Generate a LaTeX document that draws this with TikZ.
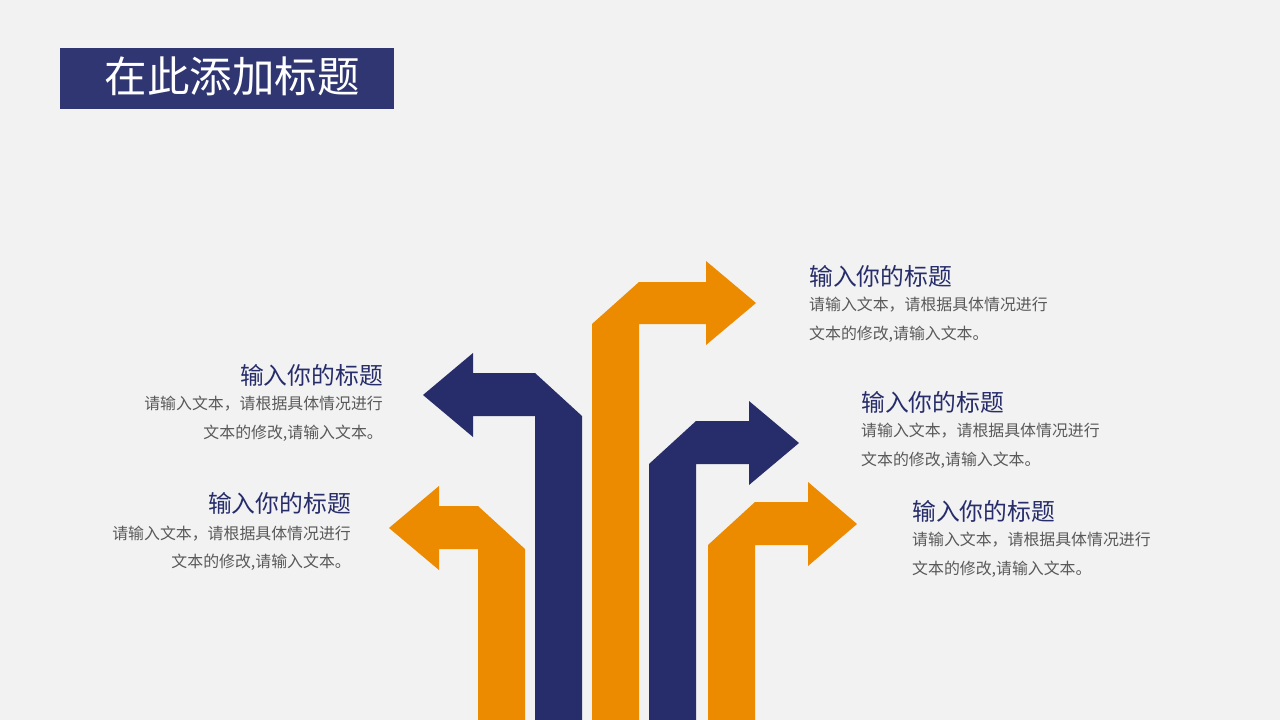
\documentclass[tikz,border=0pt]{standalone}
\usepackage{fontspec}
\setmainfont{Noto Sans CJK SC}
\definecolor{bgc}{HTML}{F2F2F2}
\definecolor{navy}{HTML}{262D6A}
\definecolor{titlebox}{HTML}{2F3671}
\definecolor{orng}{HTML}{EC8A00}
\definecolor{txtgray}{HTML}{595959}
\tikzset{
  arr/.style={draw=none},
  ttl/.style={inner sep=0pt, text=navy, font=\fontsize{23.8}{28}\selectfont},
  body/.style={inner sep=0pt, text=txtgray, font=\fontsize{15.9}{20}\selectfont},
}
\begin{document}
\begin{tikzpicture}[x=1pt,y=-1pt]
\fill[bgc] (0,0) rectangle (1280,720);
\useasboundingbox (0,0) rectangle (1280,720);
% title box
\fill[titlebox] (60,48) rectangle (394,109);
\node[inner sep=0pt, text=white, font=\fontsize{42.5}{46}\selectfont] (maintitle) at (232,76) {在此添加标题};
% arrows
\fill[orng,arr] (389,528) -- (439,486) -- (439,506) -- (478,506) -- (525,549) -- (525,720) -- (478,720) -- (478,549) -- (439,549) -- (439,570) -- cycle;
\fill[navy,arr] (423,395) -- (473,353) -- (473,373) -- (535,373) -- (582,416) -- (582,720) -- (535,720) -- (535,416) -- (473,416) -- (473,437) -- cycle;
\fill[orng,arr] (756,303) -- (706,261) -- (706,282) -- (639,282) -- (592,324) -- (592,720) -- (639,720) -- (639,324) -- (706,324) -- (706,345) -- cycle;
\fill[navy,arr] (799,443) -- (749,401) -- (749,421) -- (696,421) -- (649,464) -- (649,720) -- (696,720) -- (696,464) -- (749,464) -- (749,485) -- cycle;
\fill[orng,arr] (857,524) -- (808,482) -- (808,502) -- (755,502) -- (708,545) -- (708,720) -- (755,720) -- (755,545) -- (808,545) -- (808,566) -- cycle;
% text block 1 (top right)
\node[ttl, anchor=west] (t1) at (809,276) {输入你的标题};
\node[body, anchor=west] (b1a) at (809,305) {请输入文本，请根据具体情况进行};
\node[body, anchor=west] (b1b) at (809,334) {文本的修改,请输入文本。};
% text block 2 (left upper)
\node[ttl, anchor=east] (t2) at (383,375) {输入你的标题};
\node[body, anchor=east] (b2a) at (383,404) {请输入文本，请根据具体情况进行};
\node[body, anchor=east] (b2b) at (383,433) {文本的修改,请输入文本。};
% text block 3 (left lower)
\node[ttl, anchor=east] (t3) at (351,503) {输入你的标题};
\node[body, anchor=east] (b3a) at (351,534) {请输入文本，请根据具体情况进行};
\node[body, anchor=east] (b3b) at (351,562) {文本的修改,请输入文本。};
% text block 4 (right middle)
\node[ttl, anchor=west] (t4) at (861,402) {输入你的标题};
\node[body, anchor=west] (b4a) at (861,431) {请输入文本，请根据具体情况进行};
\node[body, anchor=west] (b4b) at (861,460) {文本的修改,请输入文本。};
% text block 5 (right lower)
\node[ttl, anchor=west] (t5) at (912,511) {输入你的标题};
\node[body, anchor=west] (b5a) at (912,540) {请输入文本，请根据具体情况进行};
\node[body, anchor=west] (b5b) at (912,569) {文本的修改,请输入文本。};
\end{tikzpicture}
\end{document}
